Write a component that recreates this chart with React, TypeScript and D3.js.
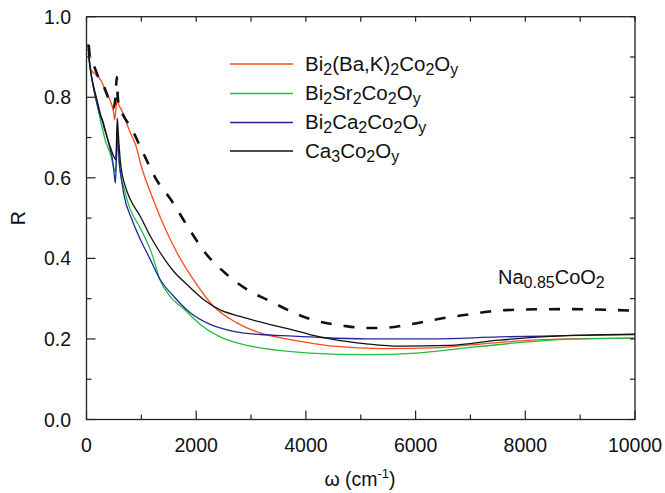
import React from "react";
import * as d3 from "d3";

type Pt = [number, number];

// omega (cm^-1), R
const bakData: Pt[] = [
  [40, 0.9], [70, 0.872], [137, 0.86], [200, 0.852], [258, 0.843], [320, 0.826], [378, 0.81],
  [430, 0.792], [470, 0.777], [495, 0.762], [513, 0.744], [535, 0.77], [561, 0.794],
  [590, 0.78], [622, 0.773], [680, 0.755], [743, 0.732], [800, 0.712], [900, 0.68],
  [1000, 0.628], [1200, 0.552], [1400, 0.485], [1650, 0.414], [1950, 0.347], [2315, 0.281],
  [2740, 0.24], [3164, 0.215], [3649, 0.2], [4073, 0.19], [4497, 0.182], [5406, 0.176],
  [6315, 0.178], [7224, 0.188], [8133, 0.197], [9042, 0.201], [10000, 0.202],
];

const srData: Pt[] = [
  [30, 0.91], [60, 0.88], [106, 0.84], [164, 0.8], [210, 0.772], [258, 0.74], [300, 0.716],
  [349, 0.69], [400, 0.672], [440, 0.657], [500, 0.624], [530, 0.615], [561, 0.7],
  [590, 0.64], [622, 0.607], [683, 0.575], [739, 0.546], [800, 0.521], [982, 0.475],
  [1195, 0.41], [1345, 0.345], [1527, 0.305], [1770, 0.275], [2073, 0.236], [2436, 0.205],
  [2861, 0.186], [3467, 0.172], [4073, 0.165], [5104, 0.161], [6012, 0.165], [6922, 0.178],
  [7831, 0.19], [8740, 0.199], [10000, 0.202],
];

const caData: Pt[] = [
  [30, 0.92], [45, 0.897], [106, 0.839], [167, 0.798], [227, 0.765], [288, 0.74], [330, 0.72],
  [378, 0.699], [430, 0.672], [470, 0.649], [513, 0.6], [527, 0.587], [545, 0.65],
  [561, 0.723], [578, 0.68], [595, 0.645], [652, 0.583], [679, 0.56], [830, 0.496],
  [982, 0.447], [1164, 0.397], [1345, 0.347], [1588, 0.306], [1891, 0.265], [2255, 0.236],
  [2679, 0.219], [3164, 0.211], [3770, 0.207], [4073, 0.205], [5104, 0.2], [6315, 0.2],
  [7527, 0.205], [8740, 0.208], [10000, 0.211],
];

const ca3Data: Pt[] = [
  [27, 0.932], [76, 0.864], [137, 0.823], [197, 0.79], [258, 0.756], [300, 0.74], [349, 0.715],
  [400, 0.69], [440, 0.674], [513, 0.649], [535, 0.645], [561, 0.748], [588, 0.693],
  [618, 0.64], [709, 0.578], [800, 0.546], [982, 0.504], [1164, 0.455], [1345, 0.414],
  [1588, 0.368], [1831, 0.335], [2133, 0.298], [2436, 0.272], [2800, 0.256], [3285, 0.238],
  [3770, 0.222], [4073, 0.211], [4497, 0.199], [5104, 0.188], [5709, 0.182], [6618, 0.184],
  [7527, 0.197], [8740, 0.208], [10000, 0.212],
];

const naData: Pt[] = [
  [40, 0.93], [76, 0.889], [127, 0.88], [227, 0.847], [285, 0.838], [350, 0.815], [409, 0.794],
  [488, 0.773], [530, 0.8], [551, 0.85], [570, 0.8], [592, 0.781], [683, 0.752],
  [803, 0.727], [1015, 0.667], [1255, 0.6], [1558, 0.542], [1831, 0.482], [2164, 0.414],
  [2558, 0.36], [2922, 0.323], [3345, 0.294], [3764, 0.266], [4127, 0.247], [4673, 0.233],
  [5104, 0.227], [5467, 0.228], [5891, 0.236], [6436, 0.25], [6922, 0.26], [7345, 0.268],
  [7891, 0.273], [8740, 0.274], [10000, 0.27],
];

const xMajorTicks = [0, 2000, 4000, 6000, 8000, 10000];
const xMinorTicks = [1000, 3000, 5000, 7000, 9000];
const yMajorTicks = [0, 0.2, 0.4, 0.6, 0.8, 1.0];
const yMinorTicks = [0.1, 0.3, 0.5, 0.7, 0.9];

type Seg = [string, boolean];
const legendLabels: Seg[][] = [
  [["Bi", false], ["2", true], ["(Ba,K)", false], ["2", true], ["Co", false], ["2", true], ["O", false], ["y", true]],
  [["Bi", false], ["2", true], ["Sr", false], ["2", true], ["Co", false], ["2", true], ["O", false], ["y", true]],
  [["Bi", false], ["2", true], ["Ca", false], ["2", true], ["Co", false], ["2", true], ["O", false], ["y", true]],
  [["Ca", false], ["3", true], ["Co", false], ["2", true], ["O", false], ["y", true]],
];
const naLabel: Seg[] = [["Na", false], ["0.85", true], ["CoO", false], ["2", true]];

const seriesColors = ["#ff4a1c", "#1fbf3c", "#25259a", "#111111"];
const seriesData = [bakData, srData, caData, ca3Data];

const FONT = "'Liberation Sans', Arial, Helvetica, sans-serif";

function Rich({ segs, x, y, size, subSize }: { segs: Seg[]; x: number; y: number; size: number; subSize: number }) {
  const out: React.ReactNode[] = [];
  let prevSub = false;
  segs.forEach(([t, sub], i) => {
    let dy = 0;
    if (sub && !prevSub) dy = 4;
    if (!sub && prevSub) dy = -4;
    out.push(
      <tspan key={i} dy={dy} fontSize={sub ? subSize : size}>
        {t}
      </tspan>
    );
    prevSub = sub;
  });
  return (
    <text x={x} y={y} fontFamily={FONT} fontSize={size} fill="#111">
      {out}
    </text>
  );
}

export default function App() {
  const W = 665, H = 493;
  const left = 86.5, right = 635, top = 16.7, bottom = 419.5;
  const x = d3.scaleLinear().domain([0, 10000]).range([left, right]);
  const y = d3.scaleLinear().domain([0, 1]).range([bottom, top]);
  const line = d3
    .line<Pt>()
    .x((d) => x(d[0]))
    .y((d) => y(d[1]))
    .curve(d3.curveMonotoneX);
  const fs = 19.5;
  const axisColor = "#222";

  const legendY = [64, 93.5, 122.5, 151];

  return (
    <svg width={W} height={H} style={{ position: "absolute", left: 0, top: 0, background: "#fff" }}>
      <defs>
        <clipPath id="plot">
          <rect x={left} y={top} width={right - left} height={bottom - top} />
        </clipPath>
      </defs>
      <rect x={0} y={0} width={W} height={H} fill="#fff" />

      <g clipPath="url(#plot)" fill="none">
        {seriesData.map((d, i) => (
          <path key={i} d={line(d) || ""} stroke={seriesColors[i]} strokeWidth={1.3} strokeLinejoin="round" />
        ))}
        <path d={line(naData) || ""} stroke="#111" strokeWidth={2.6} strokeDasharray="11,12" />
      </g>

      {/* frame */}
      <rect x={left} y={top} width={right - left} height={bottom - top} fill="none" stroke={axisColor} strokeWidth={1.3} />

      {/* x ticks */}
      {xMajorTicks.map((t) => (
        <g key={"xm" + t}>
          <line x1={x(t)} x2={x(t)} y1={bottom} y2={bottom - 9} stroke={axisColor} strokeWidth={1.2} />
          <line x1={x(t)} x2={x(t)} y1={top} y2={top + 5} stroke={axisColor} strokeWidth={1.2} />
          <text x={x(t)} y={452} textAnchor="middle" fontFamily={FONT} fontSize={fs} fill="#111">
            {t}
          </text>
        </g>
      ))}
      {xMinorTicks.map((t) => (
        <g key={"xn" + t}>
          <line x1={x(t)} x2={x(t)} y1={bottom} y2={bottom - 5} stroke={axisColor} strokeWidth={1.2} />
          <line x1={x(t)} x2={x(t)} y1={top} y2={top + 5} stroke={axisColor} strokeWidth={1.2} />
        </g>
      ))}
      {/* y ticks */}
      {yMajorTicks.map((t) => (
        <g key={"ym" + t}>
          <line x1={left} x2={left + 9} y1={y(t)} y2={y(t)} stroke={axisColor} strokeWidth={1.2} />
          <line x1={right} x2={right - 5} y1={y(t)} y2={y(t)} stroke={axisColor} strokeWidth={1.2} />
          <text x={71} y={y(t) + 7} textAnchor="end" fontFamily={FONT} fontSize={fs} fill="#111">
            {t.toFixed(1)}
          </text>
        </g>
      ))}
      {yMinorTicks.map((t) => (
        <g key={"yn" + t}>
          <line x1={left} x2={left + 5} y1={y(t)} y2={y(t)} stroke={axisColor} strokeWidth={1.2} />
          <line x1={right} x2={right - 5} y1={y(t)} y2={y(t)} stroke={axisColor} strokeWidth={1.2} />
        </g>
      ))}

      {/* axis titles */}
      <text x={360} y={486} textAnchor="middle" fontFamily={FONT} fontSize={fs} fill="#111">
        ω (cm<tspan dy={-8} fontSize={13}>-1</tspan>
        <tspan dy={8}>)</tspan>
      </text>
      <text
        transform={`translate(25,${(top + bottom) / 2}) rotate(-90)`}
        textAnchor="middle"
        fontFamily={FONT}
        fontSize={fs}
        fill="#111"
      >
        R
      </text>

      {/* legend */}
      {legendLabels.map((segs, i) => (
        <g key={"lg" + i}>
          <line x1={230} x2={293} y1={legendY[i]} y2={legendY[i]} stroke={seriesColors[i]} strokeWidth={1.3} />
          <Rich segs={segs} x={305} y={legendY[i] + 6.5} size={20.5} subSize={16} />
        </g>
      ))}

      <Rich segs={naLabel} x={498} y={284} size={20} subSize={16} />
    </svg>
  );
}
